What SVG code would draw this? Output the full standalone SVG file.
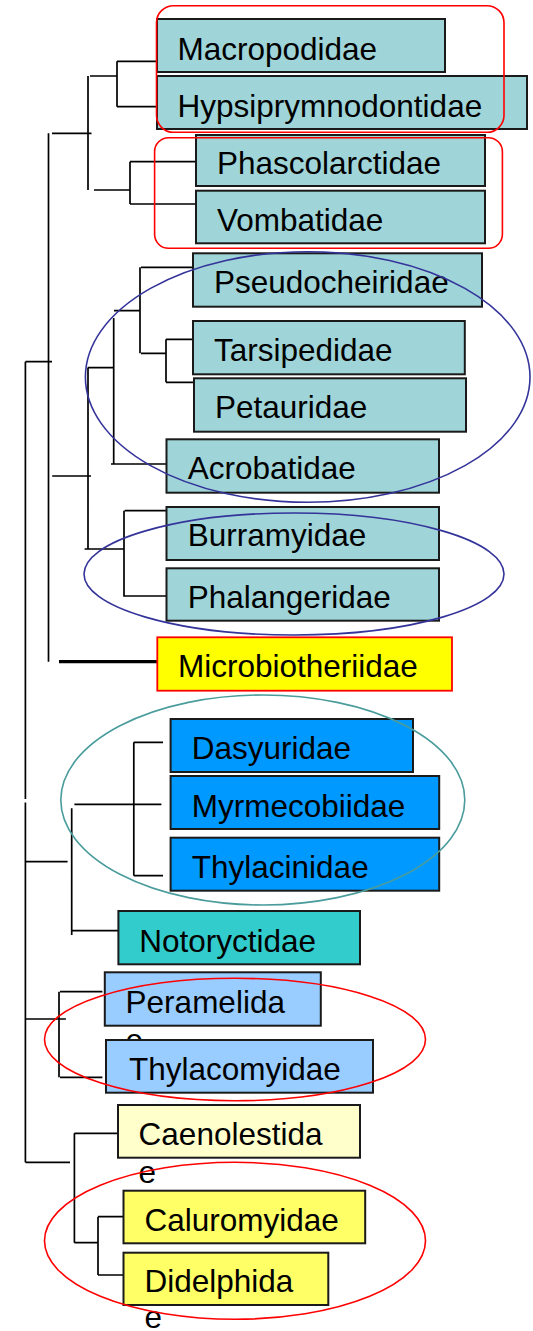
<svg xmlns="http://www.w3.org/2000/svg" width="533" height="1331" viewBox="0 0 533 1331">
<style>
.box{stroke:#1a1a1a;stroke-width:2}
.t{font-family:"Liberation Sans",Arial,sans-serif;font-size:31.5px;fill:#000}
.lt{fill:#9FD4D8}
.ln{stroke:#000;stroke-width:1.7;fill:none}
.red{fill:none;stroke:#FF0000;stroke-width:1.6}
.blu{fill:none;stroke:#333399;stroke-width:1.6}
.tea{fill:none;stroke:#4A9C9C;stroke-width:1.6}
</style>
<rect width="533" height="1331" fill="#fff"/>
<g id="connectors">
<path class="ln" d="M117,61.3V106.7M117,61.3H157M117,106.7H157M90,76H117M88,76V190M94,190H130M130,161.7V204M130,161.7H196M130,204H196M52,133.3H91.5M48.5,133.3V661.7"/>
<path class="ln" d="M141,267.3H196M140,267.3V353.3M141,353.3H166M166,339.3V382.3M166,339.3H193M166,382.3H194M114,310.7H140M113.7,318V464M111,464H166.5M87.7,367.7H113.7M88,367.7V549M84.6,549H124M124,510.7V596.7M124.6,510.7H166.5M124.6,596H166.5M52.2,476H91M25.4,361.7H52"/>
<path d="M59,661.7H163" stroke="#000" stroke-width="3.2" fill="none"/>
<path class="ln" d="M25.4,361.7V799M25.4,802.5V1162.3M133.8,742.3V875.7M133.8,742.3H163M133.8,875.7H163M74.4,804.3H161.4M71.7,808.3V935M71.7,930.7H123.5M25.4,861.7H67.6"/>
<path class="ln" d="M59,991.7V1077.3M60,991.7H102.4M60,1077.3H102.4M25.4,1019H65.9M25.4,1162.3H70M74.4,1133.3V1242.7M74.4,1133.3H118M74.4,1242.7H98M98,1216.7V1275M98,1216.7H123.5M98,1275H123.5"/>
</g>
<g id="n-macropodidae"><rect class="box lt" x="157" y="19" width="288" height="53"/><text class="t" x="177.5" y="60">Macropodidae</text></g>
<g id="n-hypsiprymnodontidae"><rect class="box lt" x="157" y="76" width="370" height="53"/><text class="t" x="177.5" y="116.7">Hypsiprymnodontidae</text></g>
<g id="n-phascolarctidae"><rect class="box lt" x="196" y="135" width="289" height="51"/><text class="t" x="217" y="174">Phascolarctidae</text></g>
<g id="n-vombatidae"><rect class="box lt" x="196" y="190.7" width="289" height="52.6"/><text class="t" x="217" y="230.7">Vombatidae</text></g>
<g id="n-pseudocheiridae"><rect class="box lt" x="193" y="253.3" width="289" height="53.4"/><text class="t" x="214" y="293.3">Pseudocheiridae</text></g>
<g id="n-tarsipedidae"><rect class="box lt" x="193" y="321" width="271.8" height="53.3"/><text class="t" x="214" y="361">Tarsipedidae</text></g>
<g id="n-petauridae"><rect class="box lt" x="194" y="378.3" width="272" height="53.4"/><text class="t" x="215" y="417.7">Petauridae</text></g>
<g id="n-acrobatidae"><rect class="box lt" x="166.5" y="439.3" width="272.5" height="53.4"/><text class="t" x="187.7" y="479.3">Acrobatidae</text></g>
<g id="n-burramyidae"><rect class="box lt" x="166.5" y="507" width="272.5" height="53"/><text class="t" x="187.7" y="546">Burramyidae</text></g>
<g id="n-phalangeridae"><rect class="box lt" x="166.5" y="568.3" width="272.5" height="52.4"/><text class="t" x="187.7" y="608.3">Phalangeridae</text></g>
<g id="n-microbiotheriidae"><rect x="157.3" y="637.3" width="294.7" height="53.4" fill="#FFFF00" stroke="#FF0000" stroke-width="1.8"/><text class="t" x="178" y="677.3">Microbiotheriidae</text></g>
<g id="n-dasyuridae"><rect class="box" fill="#0099FF" x="170.6" y="719" width="242.4" height="53"/><text class="t" x="191.8" y="759.3">Dasyuridae</text></g>
<g id="n-myrmecobiidae"><rect class="box" fill="#0099FF" x="170.6" y="776" width="268.6" height="53"/><text class="t" x="191.8" y="816.7">Myrmecobiidae</text></g>
<g id="n-thylacinidae"><rect class="box" fill="#0099FF" x="170.6" y="837.7" width="268.6" height="53"/><text class="t" x="191.8" y="877.7">Thylacinidae</text></g>
<g id="n-notoryctidae"><rect class="box" fill="#33CCCC" x="118.4" y="911" width="241.6" height="53.3"/><text class="t" x="139.2" y="951.7">Notoryctidae</text></g>
<g id="n-peramelidae"><rect class="box" fill="#99CCFF" x="104.8" y="972.3" width="216" height="53.4"/><text class="t" x="125.6" y="1012.7">Peramelida<tspan x="125.6" y="1051">e</tspan></text></g>
<g id="n-thylacomyidae"><rect class="box" fill="#99CCFF" x="106" y="1040" width="267" height="52.7"/><text class="t" x="129" y="1080">Thylacomyidae</text></g>
<g id="n-caenolestidae"><rect class="box" fill="#FFFFCC" x="118" y="1105" width="242" height="52.7"/><text class="t" x="138.6" y="1145">Caenolestida<tspan x="138.6" y="1182.7">e</tspan></text></g>
<g id="n-caluromyidae"><rect class="box" fill="#FFFF66" x="123.5" y="1190.7" width="241.7" height="52.6"/><text class="t" x="144.4" y="1230.7">Caluromyidae</text></g>
<g id="n-didelphidae"><rect class="box" fill="#FFFF66" x="123.5" y="1252.7" width="204.8" height="52.3"/><text class="t" x="144.4" y="1291.7">Didelphida<tspan x="144.4" y="1328.3">e</tspan></text></g>
<g id="groups">
<rect class="red" x="156.5" y="5.7" width="347.5" height="126.6" rx="17"/>
<rect class="red" x="154.6" y="137.7" width="347.8" height="110.6" rx="14"/>
<ellipse class="blu" cx="307.7" cy="377" rx="222.3" ry="125.3"/>
<ellipse class="blu" cx="294" cy="574" rx="210" ry="61"/>
<ellipse class="tea" cx="262.8" cy="800" rx="202" ry="105"/>
<ellipse class="red" cx="235" cy="1039.5" rx="190.5" ry="61.2"/>
<ellipse class="red" cx="235" cy="1240.8" rx="190.5" ry="78.5"/>
</g>
</svg>
